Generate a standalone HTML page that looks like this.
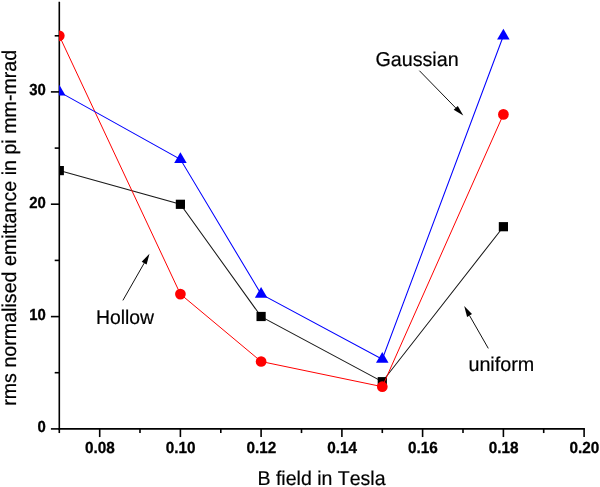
<!DOCTYPE html>
<html><head><meta charset="utf-8"><title>chart</title>
<style>
html,body{margin:0;padding:0;background:#fff;overflow:hidden;}
svg{display:block;}
text{text-rendering:geometricPrecision;font-kerning:none;}
.tk{font-family:"Liberation Sans",sans-serif;font-weight:bold;font-size:16px;stroke:#000;stroke-width:0.3px;fill:#000;}
.lb{font-family:"Liberation Sans",sans-serif;font-size:20px;fill:#000;stroke:#000;stroke-width:0.2px;}
</style></head><body>
<svg width="600" height="487" viewBox="0 0 600 487">
<rect width="600" height="487" fill="#fff"/>
<defs><clipPath id="pa"><rect x="59.1" y="0" width="560" height="428.85"/></clipPath></defs>
<line x1="59.3" y1="1.7" x2="59.3" y2="429.65" stroke="#000" stroke-width="1.6"/>
<line x1="58.5" y1="428.85" x2="584.9" y2="428.85" stroke="#000" stroke-width="1.6"/>
<line x1="59.3" y1="428.85" x2="59.3" y2="433.05" stroke="#000" stroke-width="1.6"/>
<line x1="99.7" y1="428.85" x2="99.7" y2="437.05" stroke="#000" stroke-width="1.6"/>
<text transform="translate(99.9,453.1) scale(0.956,1)" text-anchor="middle" class="tk">0.08</text>
<line x1="140.0" y1="428.85" x2="140.0" y2="433.05" stroke="#000" stroke-width="1.6"/>
<line x1="180.4" y1="428.85" x2="180.4" y2="437.05" stroke="#000" stroke-width="1.6"/>
<text transform="translate(180.6,453.1) scale(0.956,1)" text-anchor="middle" class="tk">0.10</text>
<line x1="220.8" y1="428.85" x2="220.8" y2="433.05" stroke="#000" stroke-width="1.6"/>
<line x1="261.1" y1="428.85" x2="261.1" y2="437.05" stroke="#000" stroke-width="1.6"/>
<text transform="translate(261.3,453.1) scale(0.956,1)" text-anchor="middle" class="tk">0.12</text>
<line x1="301.5" y1="428.85" x2="301.5" y2="433.05" stroke="#000" stroke-width="1.6"/>
<line x1="341.9" y1="428.85" x2="341.9" y2="437.05" stroke="#000" stroke-width="1.6"/>
<text transform="translate(342.1,453.1) scale(0.956,1)" text-anchor="middle" class="tk">0.14</text>
<line x1="382.3" y1="428.85" x2="382.3" y2="433.05" stroke="#000" stroke-width="1.6"/>
<line x1="422.6" y1="428.85" x2="422.6" y2="437.05" stroke="#000" stroke-width="1.6"/>
<text transform="translate(422.8,453.1) scale(0.956,1)" text-anchor="middle" class="tk">0.16</text>
<line x1="463.0" y1="428.85" x2="463.0" y2="433.05" stroke="#000" stroke-width="1.6"/>
<line x1="503.4" y1="428.85" x2="503.4" y2="437.05" stroke="#000" stroke-width="1.6"/>
<text transform="translate(503.6,453.1) scale(0.956,1)" text-anchor="middle" class="tk">0.18</text>
<line x1="543.7" y1="428.85" x2="543.7" y2="433.05" stroke="#000" stroke-width="1.6"/>
<line x1="584.1" y1="428.85" x2="584.1" y2="437.05" stroke="#000" stroke-width="1.6"/>
<text transform="translate(584.3,453.1) scale(0.956,1)" text-anchor="middle" class="tk">0.20</text>
<line x1="50.9" y1="428.9" x2="59.3" y2="428.9" stroke="#000" stroke-width="1.6"/>
<text transform="translate(45.9,432.2) scale(0.93,1)" text-anchor="end" class="tk">0</text>
<line x1="54.7" y1="372.7" x2="59.3" y2="372.7" stroke="#000" stroke-width="1.6"/>
<line x1="50.9" y1="316.6" x2="59.3" y2="316.6" stroke="#000" stroke-width="1.6"/>
<text transform="translate(45.9,319.9) scale(0.93,1)" text-anchor="end" class="tk">10</text>
<line x1="54.7" y1="260.4" x2="59.3" y2="260.4" stroke="#000" stroke-width="1.6"/>
<line x1="50.9" y1="204.2" x2="59.3" y2="204.2" stroke="#000" stroke-width="1.6"/>
<text transform="translate(45.9,207.7) scale(0.93,1)" text-anchor="end" class="tk">20</text>
<line x1="54.7" y1="148.1" x2="59.3" y2="148.1" stroke="#000" stroke-width="1.6"/>
<line x1="50.9" y1="91.9" x2="59.3" y2="91.9" stroke="#000" stroke-width="1.6"/>
<text transform="translate(45.9,95.3) scale(0.93,1)" text-anchor="end" class="tk">30</text>
<line x1="54.7" y1="35.8" x2="59.3" y2="35.8" stroke="#000" stroke-width="1.6"/>
<g clip-path="url(#pa)">
<polyline points="59.3,170.6 180.4,204.2 261.1,316.6 382.3,381.7 503.4,226.7" fill="none" stroke="#1a1a1a" stroke-width="1.05"/>
<rect x="54.7" y="166.0" width="9.2" height="9.2" fill="#000"/>
<rect x="175.8" y="199.7" width="9.2" height="9.2" fill="#000"/>
<rect x="256.5" y="311.9" width="9.2" height="9.2" fill="#000"/>
<rect x="377.7" y="377.1" width="9.2" height="9.2" fill="#000"/>
<rect x="498.8" y="222.1" width="9.2" height="9.2" fill="#000"/>
<polyline points="59.3,35.8 180.4,294.1 261.1,361.5 382.3,386.7 503.4,114.4" fill="none" stroke="#ff0000" stroke-width="1"/>
<circle cx="59.3" cy="35.8" r="5.35" fill="#ff0000"/>
<circle cx="180.4" cy="294.1" r="5.35" fill="#ff0000"/>
<circle cx="261.1" cy="361.5" r="5.35" fill="#ff0000"/>
<circle cx="382.3" cy="386.7" r="5.35" fill="#ff0000"/>
<circle cx="503.4" cy="114.4" r="5.35" fill="#ff0000"/>
<polyline points="59.3,91.9 180.4,159.3 261.1,294.1 382.3,359.2 503.4,35.8" fill="none" stroke="#0000ff" stroke-width="1.05"/>
<polygon points="59.3,84.8 53.0,95.5 65.5,95.5" fill="#0000ff"/>
<polygon points="180.4,152.2 174.2,162.9 186.7,162.9" fill="#0000ff"/>
<polygon points="261.1,287.0 254.9,297.7 267.4,297.7" fill="#0000ff"/>
<polygon points="382.3,352.1 376.0,362.8 388.5,362.8" fill="#0000ff"/>
<polygon points="503.4,28.7 497.1,39.4 509.6,39.4" fill="#0000ff"/>
</g>
<line x1="419.4" y1="70.7" x2="455.7" y2="107.9" stroke="#111" stroke-width="1"/><polygon points="463.3,115.6 453.7,109.8 457.8,105.9" fill="#000"/>
<line x1="122.9" y1="300.4" x2="144.2" y2="263.1" stroke="#111" stroke-width="1"/><polygon points="149.5,253.7 146.6,264.5 141.7,261.7" fill="#000"/>
<line x1="488.3" y1="348.4" x2="469.5" y2="315.5" stroke="#111" stroke-width="1"/><polygon points="464.2,306.1 472.0,314.1 467.1,316.9" fill="#000"/>
<text transform="translate(375.4,66.2) scale(0.985,1)" class="lb">Gaussian</text>
<text transform="translate(95.9,324.2) scale(0.969,1)" class="lb">Hollow</text>
<text transform="translate(468.4,371) scale(0.987,1)" class="lb">uniform</text>
<text transform="translate(321.5,484.7) scale(0.976,1)" text-anchor="middle" class="lb">B field in Tesla</text>
<text transform="translate(16.2,227.8) rotate(-90) scale(0.9827,1)" text-anchor="middle" class="lb">rms normalised emittance in pi mm-mrad</text>
</svg>
</body></html>
